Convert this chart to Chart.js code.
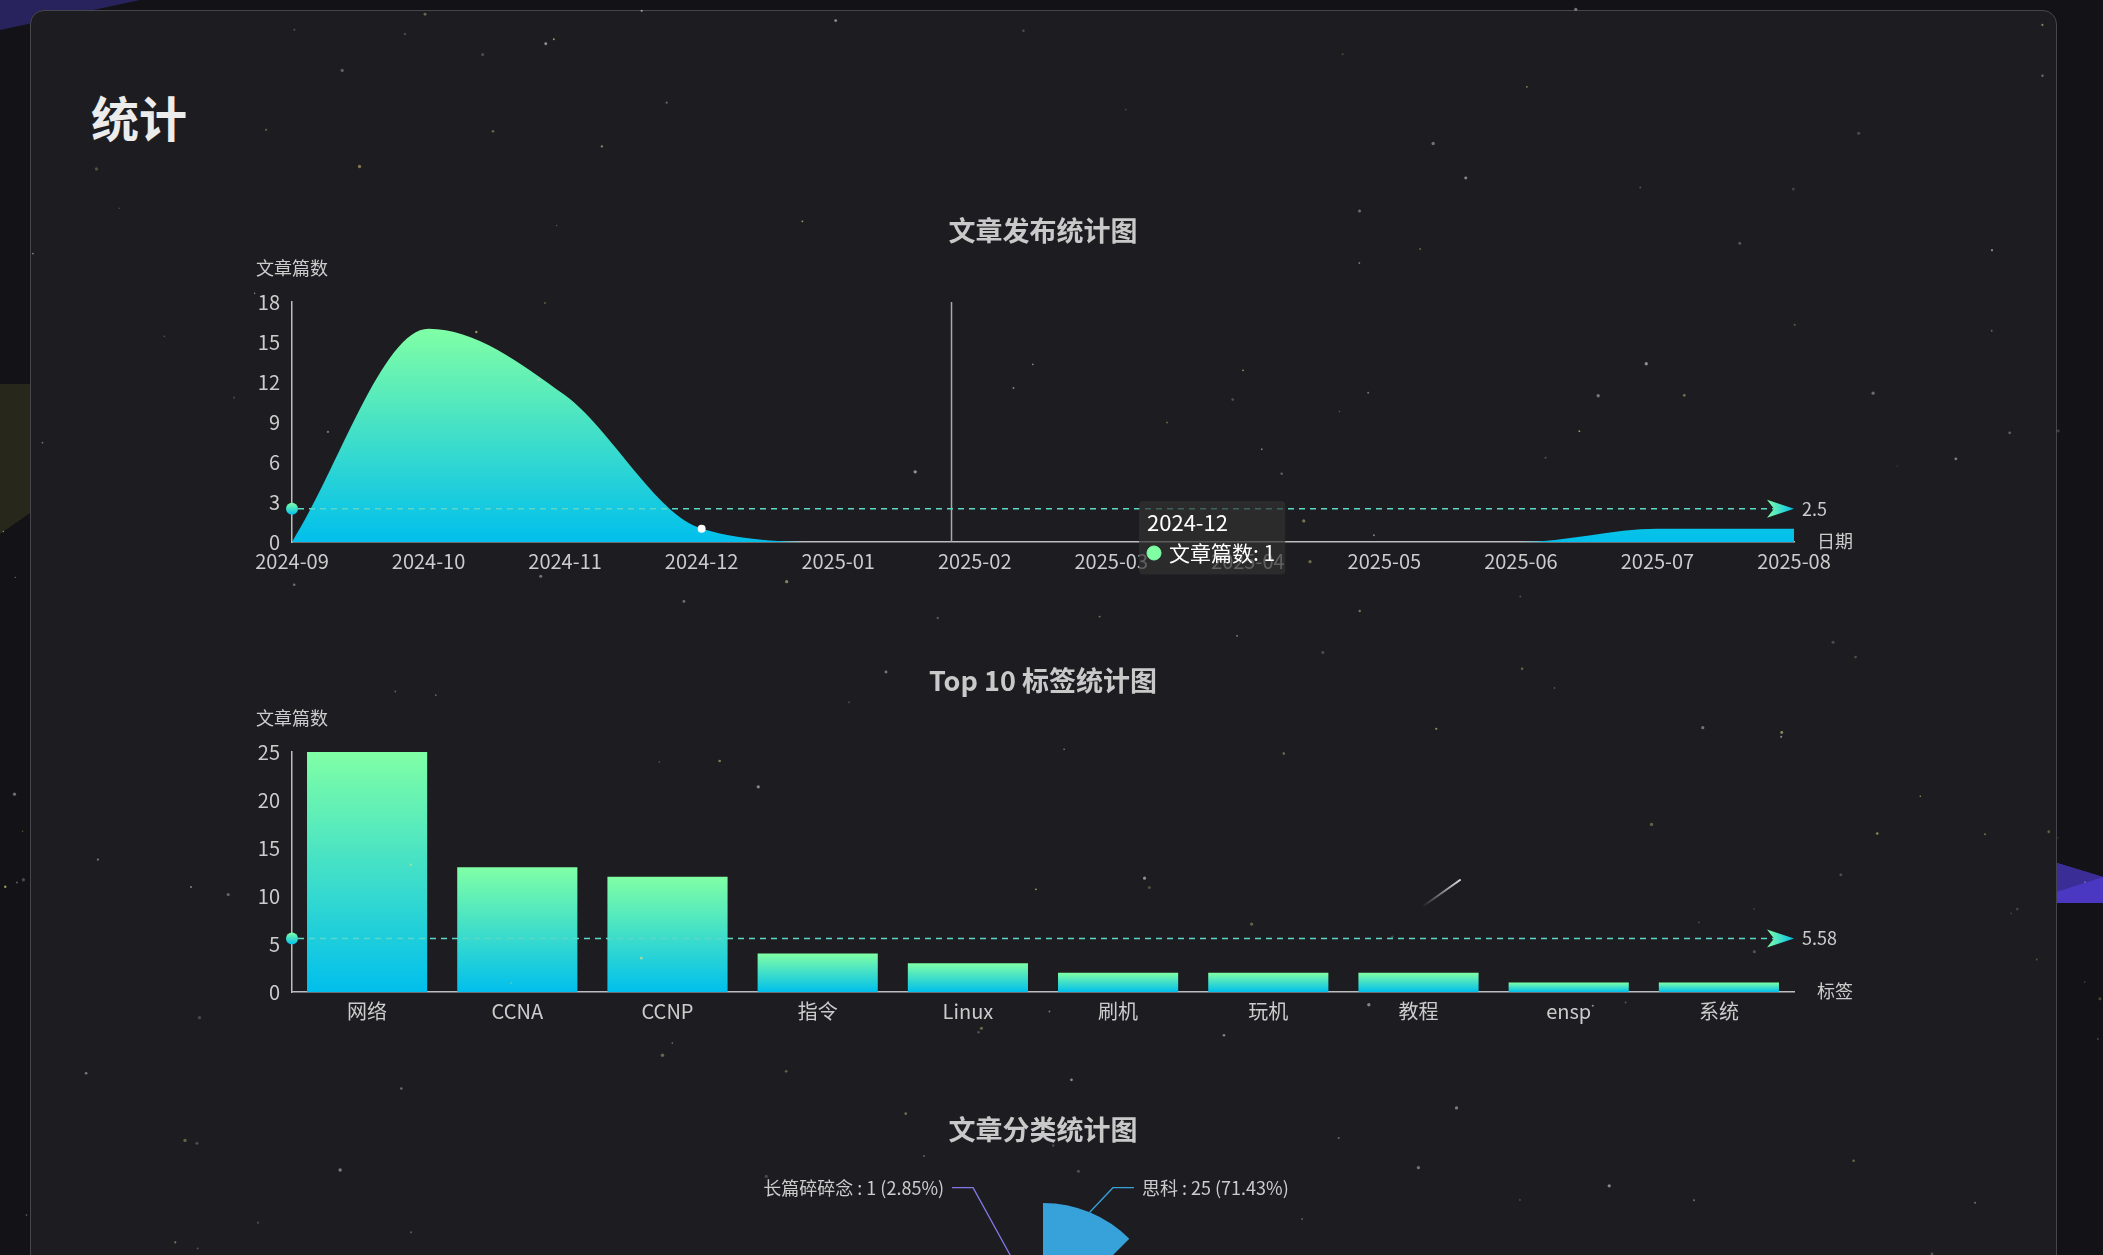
<!DOCTYPE html>
<html lang="zh-CN">
<head>
    <meta charset="UTF-8">
    <title>统计</title>
    <script src="https://cdn.jsdelivr.net/npm/chart.js@4.4.1/dist/chart.umd.min.js"></script>
    <style>
        html, body { margin: 0; padding: 0; width: 2103px; height: 1255px; overflow: hidden; background: #131317; font-family: "Noto Sans CJK SC", "Noto Sans", sans-serif; }
        .shape { position: absolute; }
        #card { position: absolute; left: 30px; top: 10px; width: 2027px; height: 1320px; box-sizing: border-box; background: #1d1d21; border: 1px solid #45454b; border-radius: 14px; }
        #card h1 { position: absolute; left: 60px; top: 81px; margin: 0; font-size: 48px; line-height: 48px; font-weight: 700; color: #ececec; }
        .chart-box { position: absolute; left: 190px; }
        #stars { position: absolute; left: 0; top: 0; pointer-events: none; }
    </style>
</head>
<body>
    <!-- background decorations -->
    <div class="shape" style="left:0;top:0;width:140px;height:30px;background:#28235c;clip-path:polygon(0 0,100% 0,0 100%)"></div>
    <div class="shape" style="left:0;top:384px;width:30px;height:150px;background:#28271b;clip-path:polygon(0 0,100% 0,100% 86%,0 100%)"></div>
    <div class="shape" style="left:2057px;top:863px;width:46px;height:40px;background:#4a37c2;clip-path:polygon(0 0,100% 35%,100% 100%,0 100%)"></div>
    <div class="shape" style="left:2057px;top:863px;width:46px;height:40px;background:#3a2e96;clip-path:polygon(0 0,100% 35%,0 72%)"></div>

    <div id="card"><h1>统计</h1></div>

    <div class="chart-box" style="top:200px"><canvas id="publishChart" width="1706" height="400"></canvas></div>
    <div class="chart-box" style="top:650px"><canvas id="tagChart" width="1706" height="400"></canvas></div>
    <div class="chart-box" style="top:1100px"><canvas id="categoryChart" width="1706" height="500"></canvas></div>

    <canvas id="stars" width="2103" height="1255"></canvas>

    <script>
        // ---- data ----
        const months = ['2024-09', '2024-10', '2024-11', '2024-12', '2025-01', '2025-02',
                        '2025-03', '2025-04', '2025-05', '2025-06', '2025-07', '2025-08'];
        const publishCounts = [0, 16, 11, 1, 0, 0, 0, 0, 0, 0, 1, 1];
        const publishAvg = 2.5;
        const publishTicks = [0, 3, 6, 9, 12, 15, 18];

        const tagNames = ['网络', 'CCNA', 'CCNP', '指令', 'Linux', '刷机', '玩机', '教程', 'ensp', '系统'];
        const tagCounts = [25, 13, 12, 4, 3, 2, 2, 2, 1, 1];
        const tagAvg = 5.58;
        const tagTicks = [0, 5, 10, 15, 20, 25];

        // only the first and last slices are visible, the middle ones are cut off below the page
        const categoryNames = ['思科', '分类2', '分类3', '分类4', '分类5', '分类6', '分类7', '长篇碎碎念'];
        const categoryCounts = [25, 3, 2, 1, 1, 1, 1, 1];

        // hovered state seen in the picture
        const hoverMonth = 3;        // tooltip + white dot on 2024-12
        const pointerAt = 4.83;      // vertical axis pointer, between 2025-01 and 2025-02

        // ---- style ----
        const FONT = '"Noto Sans CJK SC", "Noto Sans", sans-serif';
        const GREEN = 'rgb(128, 255, 165)';
        const CYAN = 'rgb(1, 191, 236)';
        const AXIS = '#bdbdbd';
        const TEXT = '#cccccc';
        const pieColors = ['#37a2da', '#32c5e9', '#67e0e3', '#9fe6b8', '#ffdb5c', '#ff9f7f', '#fb7293', '#8378ea'];

        Chart.defaults.font.family = FONT;
        Chart.defaults.color = TEXT;

        function vGradient(ctx, y0, y1) {
            const g = ctx.createLinearGradient(0, y0, 0, y1);
            g.addColorStop(0, GREEN);
            g.addColorStop(1, CYAN);
            return g;
        }

        // titles and axis names
        const textPlugin = {
            id: 'texts',
            afterDraw(chart, args, opts) {
                const { ctx, chartArea: a } = chart;
                ctx.save();
                ctx.textBaseline = 'middle';
                ctx.font = 'bold 27px ' + FONT;
                ctx.fillStyle = '#c9c9c9';
                ctx.textAlign = 'center';
                ctx.fillText(opts.title, chart.width / 2, opts.titleY);
                ctx.font = '18px ' + FONT;
                ctx.fillStyle = TEXT;
                if (opts.yName) ctx.fillText(opts.yName, a.left, a.top - 34);
                if (opts.xName) {
                    ctx.textAlign = 'left';
                    ctx.fillText(opts.xName, a.right + 23, a.bottom - 1);
                }
                ctx.restore();
            }
        };

        // average line with circle start and arrow end
        const markLinePlugin = {
            id: 'markLine',
            afterDatasetsDraw(chart, args, opts) {
                const { ctx, chartArea: a, scales: { y } } = chart;
                const py = y.getPixelForValue(opts.value);
                const tip = a.right;
                ctx.save();
                ctx.strokeStyle = '#5cd8c6';
                ctx.lineWidth = 1.5;
                ctx.setLineDash([6, 5]);
                ctx.beginPath();
                ctx.moveTo(a.left + 6, py);
                ctx.lineTo(tip - 20, py);
                ctx.stroke();
                ctx.setLineDash([]);

                ctx.fillStyle = vGradient(ctx, py - 6, py + 6);
                ctx.beginPath();
                ctx.arc(a.left, py, 6, 0, Math.PI * 2);
                ctx.fill();

                const g = ctx.createLinearGradient(tip - 27, 0, tip, 0);
                g.addColorStop(0, GREEN);
                g.addColorStop(1, CYAN);
                ctx.fillStyle = g;
                ctx.beginPath();
                ctx.moveTo(tip, py);
                ctx.lineTo(tip - 27, py - 9);
                ctx.lineTo(tip - 20, py);
                ctx.lineTo(tip - 27, py + 9);
                ctx.closePath();
                ctx.fill();

                ctx.font = '18px ' + FONT;
                ctx.fillStyle = TEXT;
                ctx.textAlign = 'left';
                ctx.textBaseline = 'middle';
                ctx.fillText(String(opts.value), tip + 8, py);
                ctx.restore();
            }
        };

        // vertical axis pointer line
        const pointerPlugin = {
            id: 'pointer',
            afterDatasetsDraw(chart, args, opts) {
                const { ctx, chartArea: a, scales: { x } } = chart;
                const px = x.getPixelForValue(opts.at);
                ctx.save();
                ctx.strokeStyle = '#a8a8a8';
                ctx.lineWidth = 1.5;
                ctx.beginPath();
                ctx.moveTo(px, a.top);
                ctx.lineTo(px, a.bottom);
                ctx.stroke();
                ctx.restore();
            }
        };

        // echarts style percentages (largest remainder, sums to 100)
        function percentWithPrecision(values, precision) {
            const sum = values.reduce((s, v) => s + v, 0);
            const digits = Math.pow(10, precision);
            const target = digits * 100;
            const votes = values.map(v => v / sum * target);
            const seats = votes.map(v => Math.floor(v));
            const rem = votes.map((v, i) => v - seats[i]);
            let current = seats.reduce((s, v) => s + v, 0);
            while (current < target) {
                let max = -Infinity, idx = -1;
                rem.forEach((r, i) => { if (r > max) { max = r; idx = i; } });
                seats[idx]++;
                rem[idx] = 0;
                current++;
            }
            return seats.map(s => +(s / digits).toFixed(precision));
        }

        const pieLabelPlugin = {
            id: 'pieLabels',
            afterDatasetsDraw(chart, args, opts) {
                const { ctx } = chart;
                const meta = chart.getDatasetMeta(0);
                const values = chart.data.datasets[0].data;
                const pcts = percentWithPrecision(values, 2);
                const maxR = Math.max(...meta.data.map(arc => arc.outerRadius));
                ctx.save();
                ctx.font = '18px ' + FONT;
                ctx.textBaseline = 'middle';
                meta.data.forEach((arc, i) => {
                    const { x, y, startAngle, endAngle, outerRadius } =
                        arc.getProps(['x', 'y', 'startAngle', 'endAngle', 'outerRadius'], true);
                    const mid = (startAngle + endAngle) / 2;
                    const cos = Math.cos(mid), sin = Math.sin(mid);
                    const side = cos >= 0 ? 1 : -1;
                    const x0 = x + cos * outerRadius, y0 = y + sin * outerRadius;
                    const x1 = x + cos * (maxR + 32) + side * 11, y1 = y + sin * (maxR + 32) + 5;
                    const x2 = x1 + side * 21;
                    ctx.strokeStyle = pieColors[i];
                    ctx.lineWidth = 1.3;
                    ctx.beginPath();
                    ctx.moveTo(x0, y0);
                    ctx.lineTo(x1, y1);
                    ctx.lineTo(x2, y1);
                    ctx.stroke();
                    ctx.fillStyle = TEXT;
                    ctx.textAlign = side > 0 ? 'left' : 'right';
                    ctx.fillText(chart.data.labels[i] + ' : ' + values[i] + ' (' + pcts[i] + '%)', x2 + side * 8, y1);
                });
                ctx.restore();
            }
        };

        const tooltipPlugin = Chart.Tooltip || Chart.registry.getPlugin('tooltip');
        tooltipPlugin.positioners.fixedBox = function () {
            return { x: 953, y: 301 };
        };

        function cartesianScales(ticks) {
            return {
                x: {
                    grid: { display: false, drawTicks: false },
                    border: { display: true, color: AXIS, width: 1.5 },
                    ticks: { font: { size: 20 }, color: TEXT, padding: 7, autoSkip: false, maxRotation: 0 },
                    afterFit: s => { s.height = 58; }
                },
                y: {
                    min: ticks[0],
                    max: ticks[ticks.length - 1],
                    grid: { display: false, drawTicks: false },
                    border: { display: true, color: AXIS, width: 1.5 },
                    ticks: { stepSize: ticks[1] - ticks[0], font: { size: 20 }, color: TEXT, padding: 12 },
                    afterFit: s => { s.width = 102; }
                }
            };
        }

        // ---- chart 1: publish stats ----
        const publishChart = new Chart(document.getElementById('publishChart'), {
            type: 'line',
            data: {
                labels: months,
                datasets: [{
                    label: '文章篇数',
                    data: publishCounts,
                    fill: 'origin',
                    cubicInterpolationMode: 'monotone',
                    borderWidth: 0,
                    backgroundColor: (c) => {
                        const { chart } = c;
                        if (!chart.chartArea) return CYAN;
                        const y = chart.scales.y;
                        return vGradient(chart.ctx, y.getPixelForValue(Math.max(...publishCounts)), y.getPixelForValue(0));
                    },
                    pointRadius: (c) => c.dataIndex === hoverMonth ? 4 : 0,
                    pointBackgroundColor: '#ffffff',
                    pointBorderWidth: 0
                }]
            },
            options: {
                responsive: false,
                animation: false,
                events: [],
                layout: { padding: { left: 0, right: 102, top: 102, bottom: 0 } },
                scales: cartesianScales(publishTicks),
                plugins: {
                    legend: { display: false },
                    tooltip: {
                        enabled: true,
                        animation: false,
                        position: 'fixedBox',
                        xAlign: 'left',
                        yAlign: 'top',
                        caretSize: 0,
                        caretPadding: 0,
                        backgroundColor: 'rgba(50, 50, 50, 0.7)',
                        borderWidth: 0,
                        cornerRadius: 4,
                        padding: { left: 8, right: 10, top: 8, bottom: 9 },
                        titleFont: { size: 22, weight: 'normal' },
                        bodyFont: { size: 21 },
                        titleColor: '#ffffff',
                        bodyColor: '#ffffff',
                        titleMarginBottom: 5,
                        usePointStyle: true,
                        boxWidth: 14,
                        boxHeight: 14,
                        boxPadding: 6,
                        multiKeyBackground: 'rgba(0,0,0,0)',
                        callbacks: {
                            labelColor: () => ({ borderColor: GREEN, backgroundColor: GREEN, borderWidth: 0 }),
                            labelPointStyle: () => ({ pointStyle: 'circle', rotation: 0 })
                        }
                    },
                    texts: { title: '文章发布统计图', titleY: 31, yName: '文章篇数', xName: '日期' },
                    markLine: { value: publishAvg },
                    pointer: { at: pointerAt }
                }
            },
            plugins: [pointerPlugin, markLinePlugin, textPlugin]
        });
        publishChart.tooltip.setActiveElements([{ datasetIndex: 0, index: hoverMonth }], { x: 0, y: 0 });
        publishChart.update();

        // ---- chart 2: top 10 tags ----
        new Chart(document.getElementById('tagChart'), {
            type: 'bar',
            data: {
                labels: tagNames,
                datasets: [{
                    label: '文章篇数',
                    data: tagCounts,
                    categoryPercentage: 0.8,
                    barPercentage: 1,
                    borderWidth: 0,
                    backgroundColor: (c) => {
                        const { chart } = c;
                        if (!chart.chartArea || c.raw == null) return CYAN;
                        const y = chart.scales.y;
                        return vGradient(chart.ctx, y.getPixelForValue(c.raw), y.getPixelForValue(0));
                    }
                }]
            },
            options: {
                responsive: false,
                animation: false,
                events: [],
                layout: { padding: { left: 0, right: 102, top: 102, bottom: 0 } },
                scales: cartesianScales(tagTicks),
                plugins: {
                    legend: { display: false },
                    tooltip: { enabled: false },
                    texts: { title: 'Top 10 标签统计图', titleY: 31, yName: '文章篇数', xName: '标签' },
                    markLine: { value: tagAvg }
                }
            },
            plugins: [markLinePlugin, textPlugin]
        });

        // ---- chart 3: categories (rose) ----
        new Chart(document.getElementById('categoryChart'), {
            type: 'polarArea',
            data: {
                labels: categoryNames,
                datasets: [{ data: categoryCounts, backgroundColor: pieColors, borderWidth: 0 }]
            },
            options: {
                responsive: false,
                animation: false,
                events: [],
                layout: { padding: { left: 731, right: 731, top: 103, bottom: 153 } },
                scales: { r: { display: false, min: -13, max: 25 } },
                plugins: {
                    legend: { display: false },
                    tooltip: { enabled: false },
                    texts: { title: '文章分类统计图', titleY: 30 }
                }
            },
            plugins: [pieLabelPlugin, textPlugin]
        });

        // ---- decorative star field ----
        (function drawStars() {
            const cv = document.getElementById('stars');
            const ctx = cv.getContext('2d');
            let seed = 20240901;
            const rnd = () => (seed = (seed * 1664525 + 1013904223) % 4294967296) / 4294967296;
            for (let i = 0; i < 170; i++) {
                const x = rnd() * cv.width, y = rnd() * cv.height;
                const r = 0.7 + rnd() * 1.0;
                const yellow = rnd() < 0.45;
                const a = 0.2 + rnd() * 0.45;
                ctx.fillStyle = yellow ? `rgba(235, 225, 140, ${a})` : `rgba(210, 210, 215, ${a})`;
                ctx.beginPath();
                ctx.arc(x, y, r, 0, Math.PI * 2);
                ctx.fill();
            }
            const g = ctx.createLinearGradient(1422, 907, 1460, 880);
            g.addColorStop(0, 'rgba(255,255,255,0)');
            g.addColorStop(1, 'rgba(255,255,255,0.85)');
            ctx.strokeStyle = g;
            ctx.lineWidth = 2;
            ctx.lineCap = 'round';
            ctx.beginPath();
            ctx.moveTo(1422, 907);
            ctx.lineTo(1460, 880);
            ctx.stroke();
        })();
    </script>
</body>
</html>
